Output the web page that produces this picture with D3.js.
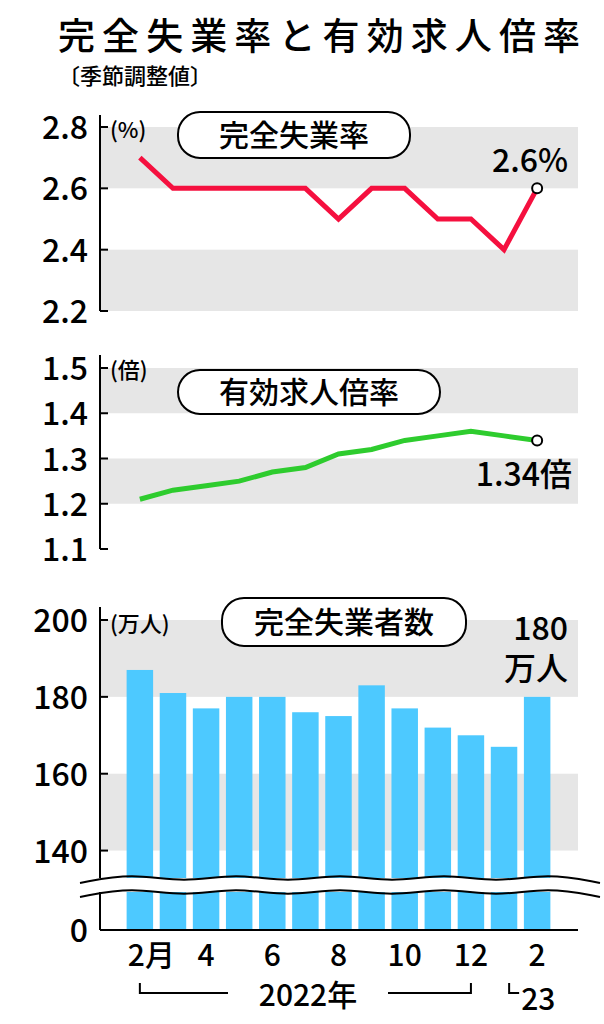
<!DOCTYPE html><html><head><meta charset="utf-8"><script src="https://cdn.jsdelivr.net/npm/d3@7"></script>
<style>body{margin:0;background:#fff}text{font-family:"Noto Sans CJK JP",sans-serif;font-weight:500}</style></head><body><svg id="c" width="604" height="1024"></svg><script>
const months=["2","3","4","5","6","7","8","9","10","11","12","1","2"];
const tickLabels=["2月","4","6","8","10","12","2"];
const rate=[2.7,2.6,2.6,2.6,2.6,2.6,2.5,2.6,2.6,2.5,2.5,2.4,2.6];
const ratio=[1.21,1.23,1.24,1.25,1.27,1.28,1.31,1.32,1.34,1.35,1.36,1.35,1.34];
const unemployed=[187,181,177,180,180,176,175,183,177,172,170,167,180];
const rateTicks=[2.2,2.4,2.6,2.8], ratioTicks=[1.1,1.2,1.3,1.4,1.5], barTicks=[140,160,180,200];
const svg=d3.select("#c");
const L=100,R=578;
const x=d3.scaleBand().domain(d3.range(13)).range([120,557]).padding(0.2);
const cx=i=>x(i)+x.bandwidth()/2;
svg.append("text").attr("x",58).attr("y",50).attr("font-size",37).attr("font-weight","bold").attr("textLength",522).text("完全失業率と有効求人倍率");
svg.append("text").attr("x",58).attr("y",84).attr("font-size",22).text("〔季節調整値〕");
function bands(y,pairs){pairs.forEach(p=>svg.append("rect").attr("x",L).attr("width",R-L).attr("y",y(p[1])).attr("height",y(p[0])-y(p[1])).attr("fill","#e6e6e6"));}
function axis(y,ticks,fmt,top,bot){
 svg.append("line").attr("x1",L).attr("x2",L).attr("y1",top).attr("y2",bot).attr("stroke","#000").attr("stroke-width",2);
 ticks.forEach(t=>{svg.append("line").attr("x1",L).attr("x2",L+8).attr("y1",y(t)).attr("y2",y(t)).attr("stroke","#000").attr("stroke-width",2);
 svg.append("text").attr("x",L-12).attr("y",y(t)+12).attr("text-anchor","end").attr("font-size",32).text(fmt(t));});}
function box(x0,y0,w,h,t){svg.append("rect").attr("x",x0).attr("y",y0).attr("width",w).attr("height",h).attr("rx",22).attr("fill","#fff").attr("stroke","#000").attr("stroke-width",2);
 svg.append("text").attr("x",x0+w/2).attr("y",y0+h/2+11).attr("text-anchor","middle").attr("font-size",30).attr("font-weight","bold").text(t);}
const y1=d3.scaleLinear().domain([2.2,2.8]).range([311,127]);
bands(y1,[[2.6,2.8],[2.2,2.4]]);
axis(y1,rateTicks,d3.format(".1f"),115,311);
svg.append("path").datum(rate).attr("d",d3.line().x((d,i)=>cx(i)).y(d=>y1(d))).attr("fill","none").attr("stroke","#f5103f").attr("stroke-width",5);
svg.append("circle").attr("cx",cx(12)).attr("cy",y1(rate[12])).attr("r",5).attr("fill","#fff").attr("stroke","#000").attr("stroke-width",2);
svg.append("text").attr("x",110).attr("y",138).attr("font-size",22).text("(%)");
box(178,112,232,46,"完全失業率");
svg.append("text").attr("x",568).attr("y",172).attr("text-anchor","end").attr("font-size",32).text("2.6%");
const y2=d3.scaleLinear().domain([1.1,1.5]).range([549,368]);
bands(y2,[[1.4,1.5],[1.2,1.3]]);
axis(y2,ratioTicks,d3.format(".1f"),355,549);
svg.append("path").datum(ratio).attr("d",d3.line().x((d,i)=>cx(i)).y(d=>y2(d))).attr("fill","none").attr("stroke","#2ecc2e").attr("stroke-width",5);
svg.append("circle").attr("cx",cx(12)).attr("cy",y2(ratio[12])).attr("r",5).attr("fill","#fff").attr("stroke","#000").attr("stroke-width",2);
svg.append("text").attr("x",110).attr("y",378).attr("font-size",22).text("(倍)");
box(178,370,262,44,"有効求人倍率");
svg.append("text").attr("x",572).attr("y",486).attr("text-anchor","end").attr("font-size",32).text("1.34倍");
const y3=d3.scaleLinear().domain([130,200]).range([889,620]);
bands(y3,[[180,200],[140,160]]);
svg.selectAll(".bar").data(unemployed).enter().append("rect").attr("x",(d,i)=>x(i)).attr("width",x.bandwidth()).attr("y",d=>y3(d)).attr("height",d=>930-y3(d)).attr("fill","#4dc9ff");
axis(y3,barTicks,d3.format("d"),607,930);
svg.append("line").attr("x1",L).attr("x2",L+8).attr("y1",930).attr("y2",930).attr("stroke","#000").attr("stroke-width",2);
svg.append("text").attr("x",L-12).attr("y",942).attr("text-anchor","end").attr("font-size",32).text("0");
const wave=d3.line().curve(d3.curveBasis);
const wpts=o=>d3.range(0,11).map(k=>[80+k*52,885+o+(k%2?-5:5)]);
svg.append("rect").attr("x",80).attr("y",878).attr("width",505).attr("height",14).attr("fill","#fff");
svg.append("path").attr("d",wave(wpts(-7))).attr("fill","none").attr("stroke","#000").attr("stroke-width",2);
svg.append("path").attr("d",wave(wpts(7))).attr("fill","none").attr("stroke","#000").attr("stroke-width",2);
svg.append("text").attr("x",110).attr("y",632).attr("font-size",22).text("(万人)");
box(222,598,244,48,"完全失業者数");
svg.append("text").attr("x",568).attr("y",640).attr("text-anchor","end").attr("font-size",32).text("180");
svg.append("text").attr("x",568).attr("y",680).attr("text-anchor","end").attr("font-size",32).text("万人");
svg.append("line").attr("x1",L).attr("x2",R).attr("y1",930).attr("y2",930).attr("stroke","#000").attr("stroke-width",2);
[0,2,4,6,8,10,12].forEach((i,k)=>svg.append("text").attr("x",k==0?cx(i)-12:cx(i)).attr("y",966).attr("text-anchor",k==0?"start":"middle").attr("font-size",30).text(tickLabels[k]));
svg.append("path").attr("d",`M${cx(0)},983V993H228M388,993H${cx(10)}V983`).attr("fill","none").attr("stroke","#000").attr("stroke-width",2);
svg.append("text").attr("x",308).attr("y",1006).attr("text-anchor","middle").attr("font-size",30).text("2022年");
svg.append("path").attr("d",`M${cx(12)-28},983V993H${cx(12)-18}`).attr("fill","none").attr("stroke","#000").attr("stroke-width",2);
svg.append("text").attr("x",cx(12)-16).attr("y",1010).attr("font-size",30).text("23");
</script></body></html>
